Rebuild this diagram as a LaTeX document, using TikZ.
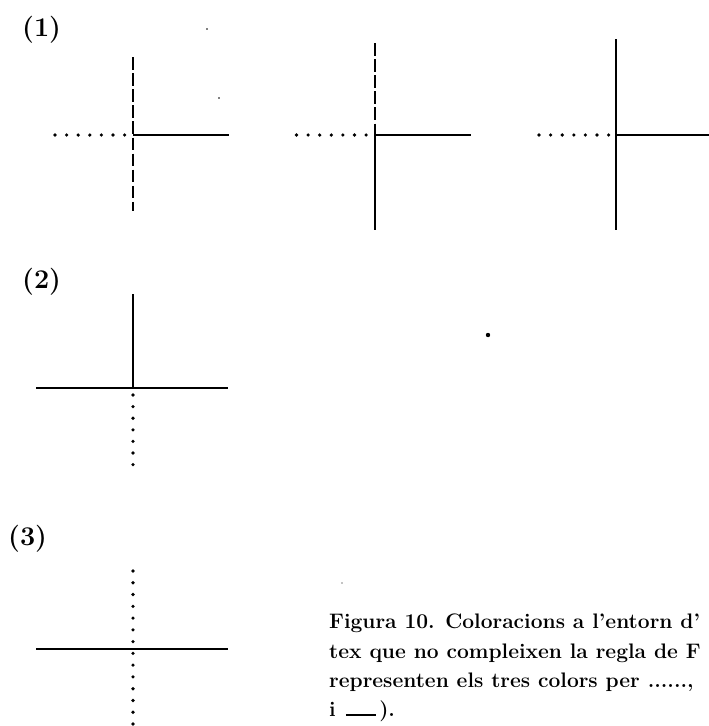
\documentclass[tikz,border=0pt]{standalone}
\begin{document}
\begin{tikzpicture}[x=1pt,y=-1pt,
  solidln/.style={line width=1.8pt},
  dashln/.style={line width=1.8pt,dash pattern=on 12.5pt off 3.6pt},
  dotln/.style={line width=3.6pt,line cap=round,dash pattern=on 0pt off #1},
  dotln/.default=11.6pt,
  lbl/.style={anchor=base west,inner sep=0pt,font=\fontsize{27}{32}\selectfont\bfseries},
  captxt/.style={anchor=base west,inner sep=0pt,font=\fontsize{21}{29}\selectfont\bfseries},
  speck/.style={fill=black}]
\useasboundingbox (0,0) rectangle (709,726);
\clip (0,0) rectangle (709,726);
% labels
\node[lbl] (l1) at (22,36) {(1)};
\node[lbl] (l2) at (22,288) {(2)};
\node[lbl] (l3) at (8,545.5) {(3)};
% figure 1a
\coordinate (a-t) at (133,57);
\coordinate (a-b) at (133,211);
\coordinate (a-c) at (133,135);
\coordinate (a-r) at (229,135);
\coordinate (a-l) at (55,135);
\coordinate (a-le) at (125,135);
\draw[dashln] (a-t) -- (a-b);
\draw[solidln] (a-c) -- (a-r);
\draw[dotln] (a-l) -- (a-le);
% figure 1b
\coordinate (b-t) at (375,43);
\coordinate (b-c) at (375,135);
\coordinate (b-b) at (375,230);
\coordinate (b-r) at (471,135);
\coordinate (b-l) at (296.5,135);
\coordinate (b-le) at (366.5,135);
\draw[dashln] (b-t) -- (b-c);
\draw[solidln] (b-c) -- (b-b);
\draw[solidln] (b-c) -- (b-r);
\draw[dotln] (b-l) -- (b-le);
% figure 1c
\coordinate (c-t) at (616,39);
\coordinate (c-c) at (616,135);
\coordinate (c-b) at (616,230);
\coordinate (c-r) at (712,135);
\coordinate (c-l) at (539,135);
\coordinate (c-le) at (609,135);
\draw[solidln] (c-t) -- (c-b);
\draw[solidln] (c-c) -- (c-r);
\draw[dotln] (c-l) -- (c-le);
% figure 2
\coordinate (d-t) at (133,294);
\coordinate (d-c) at (133,388);
\coordinate (d-l) at (36,388);
\coordinate (d-r) at (228,388);
\coordinate (d-d) at (133,395);
\coordinate (d-de) at (133,465);
\draw[solidln] (d-t) -- (d-c);
\draw[solidln] (d-l) -- (d-r);
\draw[dotln] (d-d) -- (d-de);
% figure 3
\coordinate (e-l) at (36,649);
\coordinate (e-r) at (228,649);
\coordinate (e-t) at (133,571);
\coordinate (e-b) at (133,724.3);
\draw[solidln] (e-l) -- (e-r);
\draw[dotln=11.77pt] (e-t) -- (e-b);
% specks
\fill[speck] (488,335) circle (2.2pt);
\fill[speck] (207,29) circle (0.8pt);
\fill[speck] (219,98) circle (0.8pt);
\fill[speck] (342,583) circle (0.7pt);
% caption
\node[captxt] (k1) at (329,628) {Figura 10. Coloracions a l'entorn d'};
\node[captxt] (k2) at (329,658) {tex que no compleixen la regla de F};
\node[captxt] (k3) at (329,687) {representen els tres colors per ......,};
\node[captxt] (k4) at (329,716) {i\hspace{10pt}\rule{30pt}{1.6pt}\hspace{3.5pt}).};
\end{tikzpicture}
\end{document}
